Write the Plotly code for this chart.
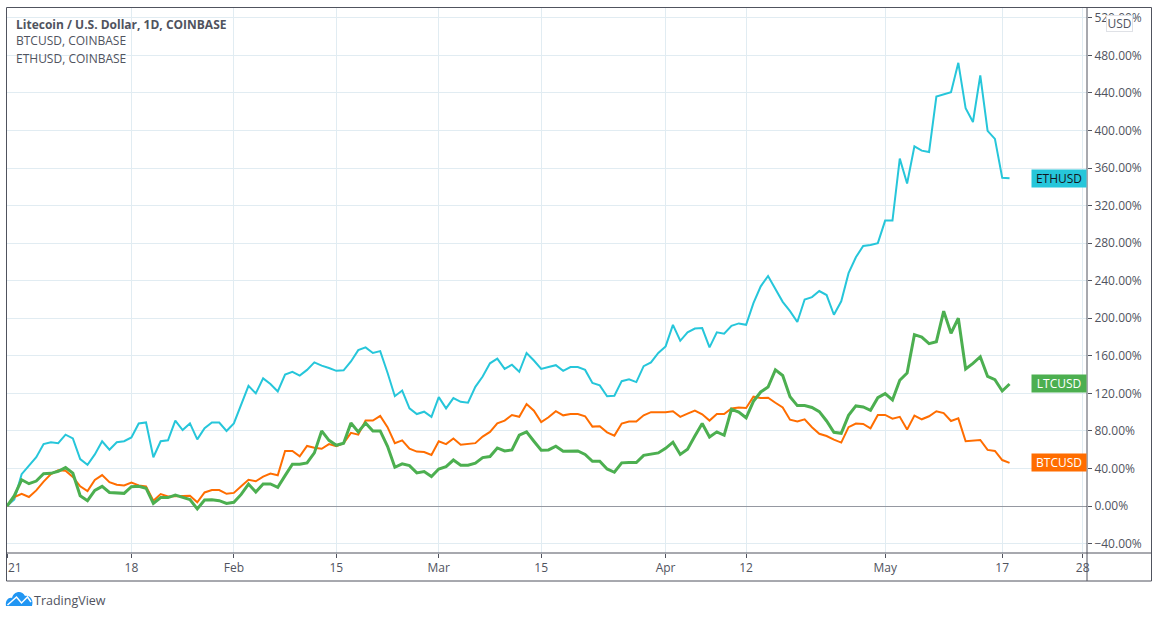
import pandas as pd
import plotly.graph_objects as go

# percent change since 1 Jan 2021, one value per day
eth = [0, 7, 34, 43, 52, 66, 68, 67, 76, 72, 50, 44, 55, 69, 60, 68, 69, 73, 88, 89,
       52, 69, 70, 91, 81, 88, 71, 83, 89, 89, 80, 88, 108, 128, 120, 136, 130, 122, 140, 143,
       139, 145, 153, 149.5, 147, 144, 144.5, 154, 166, 169, 163, 165, 142, 117, 123, 104, 98, 100.5, 95, 116,
       104, 115, 111, 110, 127, 138, 152, 157, 146, 150.5, 143, 163, 155, 146, 148, 150, 144, 148, 148, 145,
       131, 128.5, 117, 117.5, 133, 135, 132, 149, 153, 163, 170, 193, 176, 185, 189, 189.5, 169, 185, 183.5, 192,
       194.5, 193, 216, 234, 245, 231, 217.5, 207.6, 196, 220, 222.5, 229, 224.7, 203.7, 218, 248, 265, 277, 278, 280,
       304, 304, 370, 343.5, 383, 378.5, 377, 436, 438, 440.6, 472, 423.6, 409, 458.7, 399.5, 391, 349.5, 349]
btc = [0, 9.6, 13, 9.6, 16.7, 26, 34, 38, 37.6, 31, 21, 16, 27.7, 33, 25.5, 22.7, 22, 25, 22, 21,
       5.7, 12.8, 10.3, 10.3, 10.6, 11, 4, 14.5, 17, 17, 13, 14, 21, 28, 26.4, 31.4, 34.6, 32.8, 58.7, 58.7,
       53, 64, 62, 61, 66, 63.7, 67, 78, 76, 91, 91, 96, 84, 67, 70, 61, 58, 57.6, 54.4, 69,
       66, 72, 65.4, 66.5, 67, 74, 79, 88, 91, 97, 95, 108.7, 101.6, 89.5, 94.5, 101, 96.6, 98, 98, 95.6,
       84.6, 85, 78.5, 75, 87.8, 90, 90, 96.6, 100, 100, 100, 101, 95, 98.4, 101.6, 97.7, 91, 98, 98, 104,
       105, 104.4, 116.5, 115, 115.4, 110, 105, 92, 90, 92.4, 84, 77, 74.6, 70.7, 67.6, 84, 87.8, 87.4, 82.8, 97,
       97, 93, 95, 81.4, 96.3, 92.4, 95.6, 101, 99, 90.6, 93.4, 69, 69.7, 70.4, 59.8, 58.7, 49, 46]
ltc = [0, 11, 28, 23.8, 26.6, 34.4, 34.8, 37, 41, 35, 11, 5.7, 16.7, 21, 14.5, 14, 13.5, 20.6, 21, 19,
       2.8, 9, 9, 11.7, 9, 7, -3, 6.4, 6.7, 5.7, 2.8, 4, 12.4, 23.4, 15, 23.6, 23.6, 20, 32.4, 44.5,
       44.5, 46, 56.6, 80, 70, 64.7, 66.8, 88.5, 79, 88.5, 80, 80, 63.6, 41.3, 45, 43, 35.3, 36.7, 31.4, 39.5,
       42, 49, 43.4, 43.4, 45.6, 51.6, 52.7, 61.9, 58.7, 59.8, 75.4, 79, 69, 59.4, 59.8, 63.7, 58.3, 58.7, 58.7, 55,
       47.7, 47.7, 39.5, 36, 46, 46.3, 46.3, 54, 55.5, 56.6, 61.5, 68, 55, 60.5, 74.6, 88, 73.6, 79, 75.4, 103,
       100, 94, 111.5, 121.5, 126.8, 145, 139, 116.5, 107, 107, 105, 100.5, 90.6, 78.5, 77.5, 96.6, 106.6, 105.5, 102, 115.4,
       119.7, 113, 134, 141.7, 182.5, 180, 173, 175, 207.6, 184, 200, 146, 152, 159, 138, 134.6, 122.5, 130]
dates = pd.date_range("2021-01-01", periods=len(eth), freq="D")

x_ticks = ["2021-01-01", "2021-01-18", "2021-02-01", "2021-02-15", "2021-03-01", "2021-03-15",
           "2021-04-01", "2021-04-12", "2021-05-01", "2021-05-17", "2021-05-28"]
x_labels = ["", "18", "Feb", "15", "Mar", "15", "Apr", "12", "May", "17", "28"]
y_ticks = [-40, 0, 40, 80, 120, 160, 200, 240, 280, 320, 360, 400, 440, 480, 520]
y_labels = ["\u221240.00%", "0.00%", "40.00%", "80.00%", "120.00%", "160.00%", "200.00%", "240.00%",
            "280.00%", "320.00%", "360.00%", "400.00%", "440.00%", "480.00%", "520.00%"]

FONT = "Open Sans"
TEXT = "#50535e"
GRID = "#e1ecf2"
ETH_COL = "#26c6da"
BTC_COL = "#ff6d00"
LTC_COL = "#4caf50"


# page pixels to paper coordinates
def px(x):
    return (x - 7) / 1080


def py(y):
    return (553 - y) / 545


fig = go.Figure()
fig.add_trace(go.Scatter(x=dates, y=eth, mode="lines", name="ETHUSD", line=dict(color=ETH_COL, width=2)))
fig.add_trace(go.Scatter(x=dates, y=btc, mode="lines", name="BTCUSD", line=dict(color=BTC_COL, width=2)))
fig.add_trace(go.Scatter(x=dates, y=ltc, mode="lines", name="LTCUSD", line=dict(color=LTC_COL, width=3)))

frame = [(6.5, 7.5, 1151.5, 7.5), (6.5, 581, 1151.5, 581), (6.5, 7.5, 6.5, 581),
         (1151.5, 7.5, 1151.5, 581), (1087, 7.5, 1087, 581), (6.5, 553, 1151.5, 553)]
shapes = [dict(type="line", xref="paper", yref="paper", x0=px(a), y0=py(b), x1=px(c), y1=py(d),
               line=dict(color=TEXT, width=1)) for a, b, c, d in frame]

# TradingView logo
cloud = [("M", 6, 606), ("C", 5, 600, 9, 597, 12, 598), ("C", 14, 591, 22, 590, 25, 596),
         ("C", 30, 595, 34, 600, 32, 606), ("Z",)]
cloud_path = " ".join(
    p[0] + " " + " ".join(f"{px(p[i]):.5f},{py(p[i + 1]):.5f}" for i in range(1, len(p), 2)) for p in cloud)
shapes.append(dict(type="path", xref="paper", yref="paper", path=cloud_path, fillcolor="#2196f3", line=dict(width=0)))
zig = [(7.5, 605), (16.5, 597), (21.5, 603), (27.5, 597), (31, 602)]
zig_path = "M " + " L ".join(f"{px(a):.5f},{py(b):.5f}" for a, b in zig)
shapes.append(dict(type="path", xref="paper", yref="paper", path=zig_path, line=dict(color="white", width=1.5)))

annotations = [
    dict(text="<b>Litecoin / U.S. Dollar, 1D, COINBASE</b>", x=px(13.5), y=py(24), size=12),
    dict(text="BTCUSD, COINBASE", x=px(13.5), y=py(41), size=12),
    dict(text="ETHUSD, COINBASE", x=px(13.5), y=py(58), size=12),
    dict(text="21", x=px(5.5), y=py(567.5), size=12),
    dict(text="TradingView", x=px(32), y=py(600), size=12.5),
]
annotations = [dict(text=a["text"], x=a["x"], y=a["y"], xref="paper", yref="paper", xanchor="left", yanchor="middle",
                    showarrow=False, font=dict(family=FONT, size=a["size"], color=TEXT)) for a in annotations]

# last value tags on the price scale
for name, vals, col, txt in [("ETHUSD", eth, ETH_COL, "#131722"), ("LTCUSD", ltc, LTC_COL, "white"),
                             ("BTCUSD", btc, BTC_COL, "white")]:
    annotations.append(dict(text=name, x=px(1087), y=vals[-1], xref="paper", yref="y", xanchor="right",
                            yanchor="middle", showarrow=False, bgcolor=col, width=52, height=15, borderpad=1,
                            font=dict(family=FONT, size=12, color=txt)))

annotations.append(dict(text="USD", x=px(1119), y=py(23.5), xref="paper", yref="paper", showarrow=False,
                        xanchor="center", yanchor="middle", bgcolor="white", bordercolor="#dfe1e6", borderwidth=1,
                        width=25, height=15, borderpad=0, font=dict(family=FONT, size=12, color=TEXT)))

fig.update_layout(
    width=1158, height=618, margin=dict(l=7, r=71, t=8, b=65),
    paper_bgcolor="white", plot_bgcolor="white", showlegend=False,
    shapes=shapes, annotations=annotations,
    font=dict(family=FONT, size=12, color=TEXT),
)
fig.update_xaxes(range=["2021-01-01", "2021-05-28 14:00"], tickmode="array", tickvals=x_ticks, ticktext=x_labels,
                 showgrid=True, gridcolor=GRID, gridwidth=1, ticks="outside", ticklen=4, tickcolor=TEXT,
                 tickfont=dict(family=FONT, size=12, color=TEXT), zeroline=False, showline=False)
fig.update_yaxes(range=[-50, 530.4], side="right", tickmode="array", tickvals=y_ticks, ticktext=y_labels,
                 showgrid=True, gridcolor=GRID, gridwidth=1, ticks="outside", ticklen=4, tickcolor=TEXT,
                 tickfont=dict(family=FONT, size=12, color=TEXT),
                 zeroline=True, zerolinecolor="#9598a1", zerolinewidth=1, showline=False)

fig.write_html("out.html", config={"displayModeBar": False}, post_script="document.body.style.margin='0';")
